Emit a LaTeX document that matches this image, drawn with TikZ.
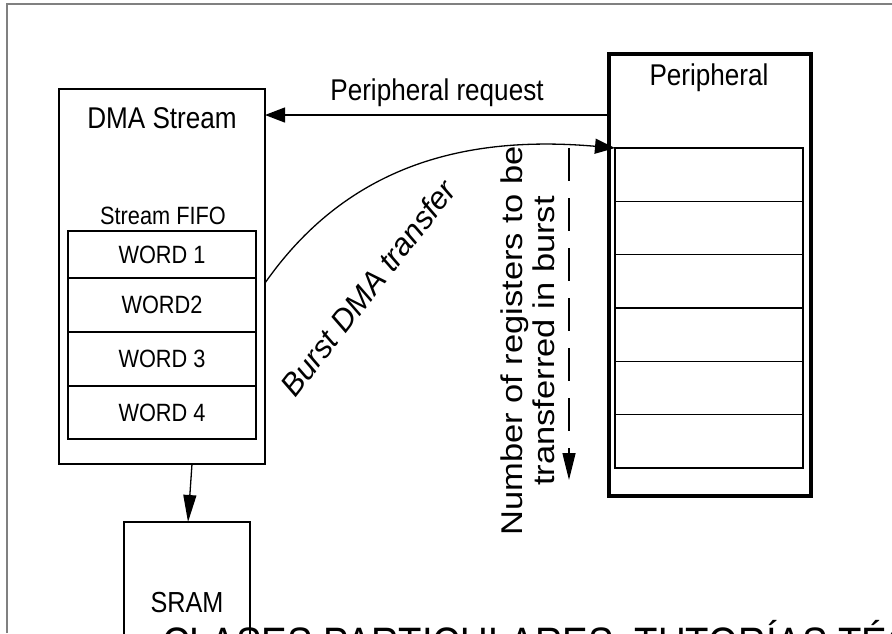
\documentclass[tikz,border=0pt]{standalone}
\usepackage{fontspec}
\setmainfont{Liberation Sans}[FakeStretch=0.87]
\newfontfamily\rotfont{Liberation Sans}[FakeStretch=1.15]
\newfontfamily\slantfont{Liberation Sans}
\usetikzlibrary{positioning,calc,arrows.meta}

\begin{document}
\begin{tikzpicture}
[x=1pt, y=1pt,
every node/.style={inner sep=0pt, outer sep=0pt},
box/.style={draw, line width=1.4pt},
word/.style={box, minimum width=188pt, font=\fontsize{25}{30}\selectfont},
reg/.style={box, minimum width=188pt, minimum height=53.33pt},
arr/.style={line width=1.3pt, -{Triangle[length=20pt, width=15pt]}},
longarr/.style={line width=1.3pt, -{Triangle[length=27pt, width=13pt]}},
big/.style={font=\fontsize{30}{36}\selectfont}]

\clip (0,0) rectangle (892,-633);
\draw[gray, line width=1.5pt] (7,-633) -- (7,-4) -- (892,-4);

% DMA side
\node[box, minimum width=206pt, minimum height=375pt] (dma) at (162,-276.5) {};
\node[big] (dmatitle) at (162,-118) {DMA Stream};
\node[font=\fontsize{25}{30}\selectfont] (fifotitle) at (163,-216) {Stream FIFO};
\node[word, minimum height=47pt] (w1) at (162,-254.5) {WORD 1};
\node[word, minimum height=54pt, below=0pt of w1] (w2) {WORD2};
\node[word, minimum height=54pt, below=0pt of w2] (w3) {WORD 3};
\node[word, minimum height=53pt, below=0pt of w3] (w4) {WORD 4};

\node[box, minimum width=126pt, minimum height=162pt, font=\fontsize{29}{34}\selectfont] (sram) at (187,-603) {SRAM};
\draw[longarr] ($(dma.south)+(30,0)$) -- ($(sram.north)+(1,0)$);

% peripheral side
\node[box, line width=4.5pt, minimum width=202pt, minimum height=442pt] (per) at (710,-275) {};
\node[big] (pertitle) at (709,-78) {Peripheral};
\node[reg] (r1) at (709,-174.67) {};
\node[reg, below=0pt of r1] (r2) {};
\node[reg, below=0pt of r2] (r3) {};
\node[reg, below=0pt of r3] (r4) {};
\node[reg, below=0pt of r4] (r5) {};
\node[reg, below=0pt of r5] (r6) {};

\coordinate (req) at (0,-115);
\draw[arr] (per.west |- req) -- (dma.east |- req)
  node[midway, above=8pt, big] (reqlbl) {Peripheral request};

\coordinate (burst) at (0,-283);
\draw[arr] (dma.east |- burst) to[out=55, in=175] (r1.north west);
\node[rotate=52, font=\slantfont\itshape\fontsize{31}{36}\selectfont] (burstlbl) at (368,-288) {Burst DMA transfer};

\coordinate (dtop) at (569,-148);
\coordinate (dbot) at (569,-480);
\draw[longarr, dash pattern=on 33pt off 17pt] (dtop) -- (dbot);
\node[rotate=90, align=center, font=\rotfont\fontsize{30}{32}\selectfont] (nreg) at (528,-341)
  {Number of registers to be\\transferred in burst};

\node[anchor=base west, font=\fontsize{44}{50}\selectfont] (wm) at (162,-658) {CLASES PARTICULARES, TUTORÍAS TÉCNICAS};
\end{tikzpicture}
\end{document}
